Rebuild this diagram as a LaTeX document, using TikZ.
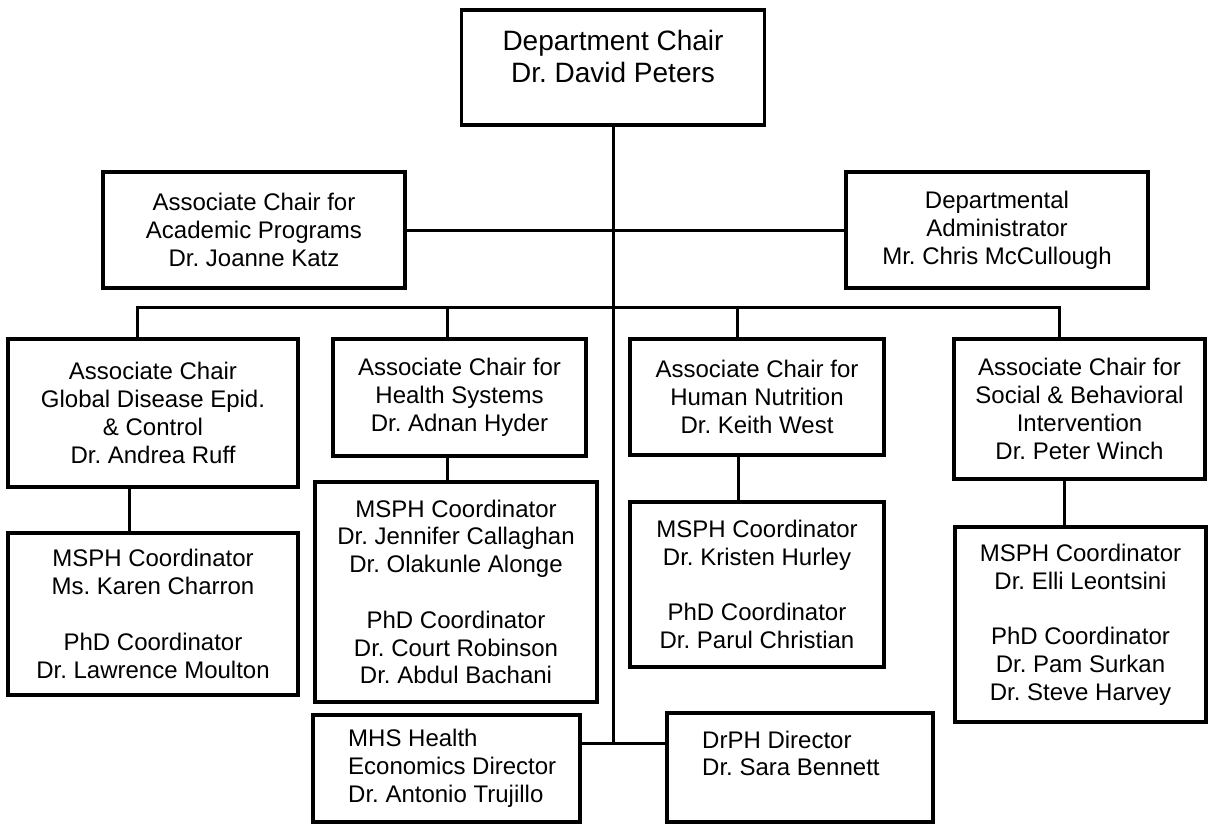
\documentclass[tikz,border=0pt]{standalone}
\usepackage{fontspec}
\setmainfont{Liberation Sans}
\begin{document}
\frenchspacing
\begin{tikzpicture}[x=1pt,y=-1pt,
  box/.style={draw,line width=3.5pt,inner sep=0pt,align=center,font=\fontsize{24}{27.8}\selectfont},
  link/.style={line width=3pt},
  txt/.style={inner sep=0pt,font=\fontsize{24}{27.8}\selectfont}]
\useasboundingbox (0,0) rectangle (1209,824);
% top
\node[box,minimum width=303pt,minimum height=115pt] (chair) at (613,67.5) {};
\node[txt,align=center,font=\fontsize{28}{32}\selectfont] (chairtxt) at (613,56) {Department Chair\\Dr. David Peters};
% second row
\node[box,minimum width=302pt,minimum height=116pt] (acad) at (254,230) {Associate Chair for\\Academic Programs\\Dr. Joanne Katz};
\node[box,minimum width=302pt,minimum height=116pt] (admin) at (997,230) {Departmental\\Administrator\\Mr. Chris McCullough};
% third row
\node[box,minimum width=290pt,minimum height=148pt] (global) at (153,413) {Associate Chair\\Global Disease Epid.\\\& Control\\Dr. Andrea Ruff};
\node[box,minimum width=253pt,minimum height=117pt] (hs) at (459.5,397.5) {Associate Chair for\\Health Systems\\Dr. Adnan Hyder};
\node[box,minimum width=254pt,minimum height=116pt] (hn) at (757,397) {Associate Chair for\\Human Nutrition\\Dr. Keith West};
\node[box,minimum width=251pt,minimum height=140pt] (sb) at (1079.5,409) {Associate Chair for\\Social \& Behavioral\\Intervention\\Dr. Peter Winch};
% coordinators
\node[box,minimum width=290pt,minimum height=162pt] (gm) at (153,614) {MSPH Coordinator\\Ms. Karen Charron\\[27.8pt]PhD Coordinator\\Dr. Lawrence Moulton};
\node[box,minimum width=282pt,minimum height=220pt] (hm) at (456,592) {MSPH Coordinator\\Dr. Jennifer Callaghan\\Dr. Olakunle Alonge\\[27.8pt]PhD Coordinator\\Dr. Court Robinson\\Dr. Abdul Bachani};
\node[box,minimum width=254pt,minimum height=165pt] (nm) at (757,584.5) {MSPH Coordinator\\Dr. Kristen Hurley\\[27.8pt]PhD Coordinator\\Dr. Parul Christian};
\node[box,minimum width=251pt,minimum height=195pt] (sm) at (1080.5,624.5) {MSPH Coordinator\\Dr. Elli Leontsini\\[27.8pt]PhD Coordinator\\Dr. Pam Surkan\\Dr. Steve Harvey};
% bottom
\node[box,minimum width=267pt,minimum height=107pt] (mhs) at (446.5,768.5) {};
\node[txt,align=left,anchor=west] (mhstxt) at (348,768.5) {MHS Health\\Economics Director\\Dr. Antonio Trujillo};
\node[box,minimum width=266pt,minimum height=109pt] (drph) at (800,767.5) {};
\node[txt,align=left,anchor=west] (drphtxt) at (702,753.5) {DrPH Director\\Dr. Sara Bennett};
% connectors
\coordinate (hub) at (613,743);
\draw[link] (chair.south) -- (hub);
\draw[link] (acad.east) -- (admin.west);
\draw[link] (mhs.east |- hub) -- (drph.west |- hub);
\coordinate (bL) at (137,307);
\coordinate (b2) at (447,307);
\coordinate (b3) at (737,307);
\coordinate (bR) at (1059,307);
\draw[link] (bL |- global.north) -- (bL) -- (bR) -- (bR |- sb.north);
\draw[link] (b2) -- (b2 |- hs.north);
\draw[link] (b3) -- (b3 |- hn.north);
\draw[link] ([xshift=-24pt]global.south) -- ([xshift=-24pt]global.south |- gm.north);
\draw[link] ([xshift=-12.5pt]hs.south) -- ([xshift=-12.5pt]hs.south |- hm.north);
\draw[link] ([xshift=-19pt]hn.south) -- ([xshift=-19pt]hn.south |- nm.north);
\draw[link] ([xshift=-15.5pt]sb.south) -- ([xshift=-15.5pt]sb.south |- sm.north);
\end{tikzpicture}
\end{document}
